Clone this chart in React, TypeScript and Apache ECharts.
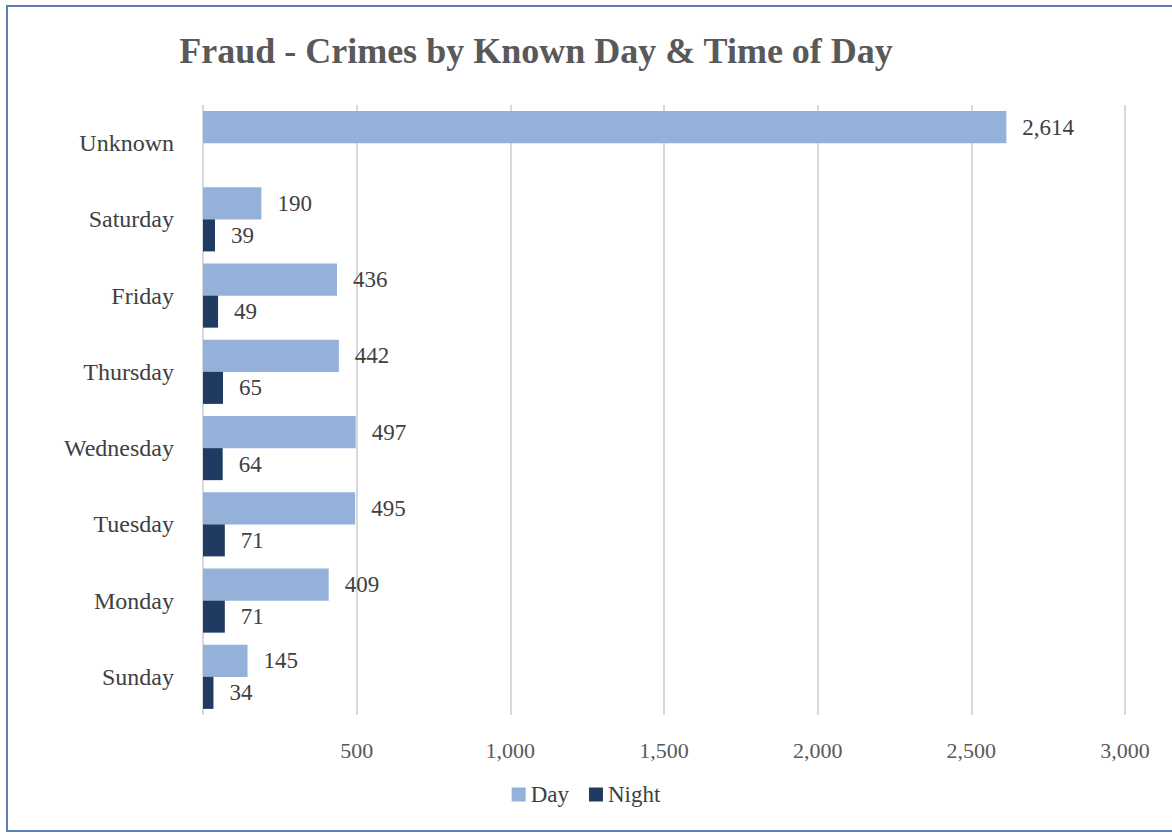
import React, { useEffect, useRef } from "react";
import * as echarts from "echarts";

const categories = ["Unknown", "Saturday", "Friday", "Thursday", "Wednesday", "Tuesday", "Monday", "Sunday"];
const dayValues: (number | null)[] = [2614, 190, 436, 442, 497, 495, 409, 145];
const nightValues: (number | null)[] = [null, 39, 49, 65, 64, 71, 71, 34];
const titleText = "Fraud - Crimes by Known Day & Time of Day";

const serif = "'Liberation Serif', 'DejaVu Serif', serif";

export default function App() {
  const ref = useRef<HTMLDivElement>(null);
  useEffect(() => {
    if (!ref.current) return;
    const chart = echarts.init(ref.current, null, { renderer: "svg" });
    const fmt = (v: number) => v.toLocaleString("en-US");
    const labelStyle = {
      show: true,
      position: "right" as const,
      distance: 16,
      color: "#404040",
      fontFamily: serif,
      fontSize: 23,
      formatter: (p: any) => (p.value == null ? "" : fmt(p.value)),
    };
    chart.setOption({
      animation: false,
      backgroundColor: "#ffffff",
      title: {
        text: titleText,
        left: 531,
        top: 28,
        textAlign: "center",
        textStyle: { fontFamily: serif, fontSize: 36, fontWeight: "bold", color: "#595959" },
      },
      graphic: [
        {
          type: "rect",
          shape: { x: 7, y: 6, width: 1200, height: 825 },
          style: { fill: "none", stroke: "#5B80B9", lineWidth: 2 },
          silent: true,
        },
      ],
      legend: {
        data: ["Day", "Night"],
        bottom: 22,
        left: "center",
        itemWidth: 14,
        itemHeight: 14,
        itemGap: 20,
        icon: "rect",
        textStyle: { fontFamily: serif, fontSize: 23, color: "#404040" },
      },
      grid: { left: 203, right: 47, top: 105, bottom: 118 },
      xAxis: {
        type: "value",
        min: 0,
        max: 3000,
        interval: 500,
        axisLine: { show: false },
        axisTick: { show: false },
        splitLine: { show: true, lineStyle: { color: "#D9D9D9", width: 2 } },
        axisLabel: {
          showMinLabel: false,
          margin: 24,
          color: "#595959",
          fontFamily: serif,
          fontSize: 22,
          formatter: (v: number) => (v === 0 ? "" : fmt(v)),
        },
      },
      yAxis: {
        type: "category",
        data: categories,
        inverse: true,
        axisLine: { show: false },
        axisTick: { show: false },
        axisLabel: { margin: 29, color: "#404040", fontFamily: serif, fontSize: 24 },
      },
      series: [
        {
          name: "Day",
          type: "bar",
          data: dayValues,
          barGap: "0%",
          barCategoryGap: "16%",
          itemStyle: { color: "#94B1DA" },
          label: labelStyle,
        },
        {
          name: "Night",
          type: "bar",
          data: nightValues,
          itemStyle: { color: "#203B61" },
          label: labelStyle,
        },
      ],
    });
    return () => chart.dispose();
  }, []);
  return (
    <div
      ref={ref}
      style={{ position: "fixed", left: 0, top: 0, width: 1172, height: 833 }}
    />
  );
}
